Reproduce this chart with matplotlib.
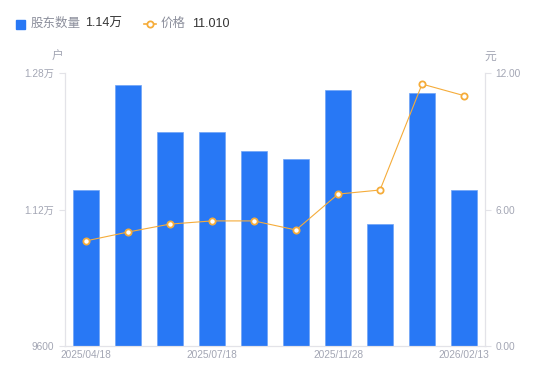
import matplotlib.pyplot as plt
import matplotlib.ticker as mticker

plt.rcParams['font.family'] = ['Liberation Sans', 'Noto Sans CJK SC']

dates = ['2025/04/18', '2025/05/30', '2025/06/30', '2025/07/18', '2025/08/29',
         '2025/09/30', '2025/11/28', '2025/12/31', '2026/01/30', '2026/02/13']
holders = [11430, 12660, 12110, 12110, 11890, 11790, 12600, 11030, 12570, 11430]
price = [4.62, 5.01, 5.36, 5.50, 5.50, 5.10, 6.68, 6.86, 11.52, 11.01]

left_ticks = [9600, 11200, 12800]
left_tick_labels = ['9600', '1.12万', '1.28万']
right_ticks = [0, 6, 12]

blue = '#2878f5'
orange = '#f5ac3a'
grey = '#a3a6b4'
spine_c = '#e3e3e8'

fig = plt.figure(figsize=(5.5, 3.81), dpi=100)
ax = fig.add_axes([0.118, 0.092, 0.764, 0.716])
ax2 = ax.twinx()

x = range(len(dates))
ax.bar(x, holders, width=0.6, color=blue, edgecolor='#6fa3f7', linewidth=0.5, zorder=2)
ax.set_ylim(9600, 12800)
ax.set_xlim(-0.5, len(dates) - 0.5)
ax.set_yticks(left_ticks)
ax.set_yticklabels(left_tick_labels)
ax.set_xticks([0, 3, 6, 9])
ax.set_xticklabels([dates[i] for i in [0, 3, 6, 9]])

ax2.plot(x, price, color=orange, lw=0.8, marker='o', ms=4.5, mfc='white',
         mec=orange, mew=1.3, zorder=3)
ax2.set_ylim(0, 12)
ax2.set_yticks(right_ticks)
ax2.yaxis.set_major_formatter(mticker.FormatStrFormatter('%.2f'))

for a in (ax, ax2):
    for s in a.spines.values():
        s.set_color(spine_c)
    a.spines['top'].set_visible(False)
    a.tick_params(colors=grey, labelsize=7.3, length=4, width=0.8)
    a.tick_params(axis='y', labelcolor=grey, color=spine_c)
ax.tick_params(axis='x', length=0, pad=3)

fig.text(58 / 550, 1 - 57 / 381, '户', color=grey, fontsize=8.5, va='center', ha='center')
fig.text(490 / 550, 1 - 57 / 381, '元', color=grey, fontsize=8.5, va='center', ha='center')

# legend row
fig.patches.append(plt.Rectangle((16 / 550, 1 - 29 / 381), 9 / 550, 9 / 381,
                                 transform=fig.transFigure, color=blue, figure=fig))
fig.text(31 / 550, 1 - 24 / 381, '股东数量', color='#8c8f9c', fontsize=9, va='center')
fig.text(85 / 550, 1 - 24 / 381, '1.14万', color='#333333', fontsize=9, va='center')
fig.lines.append(plt.Line2D([144 / 550, 156 / 550], [1 - 24 / 381] * 2, color=orange,
                            lw=1.2, transform=fig.transFigure))
fig.lines.append(plt.Line2D([150 / 550], [1 - 24 / 381], color=orange, marker='o', ms=4.5,
                            mfc='white', mew=1.3, transform=fig.transFigure))
fig.text(161 / 550, 1 - 24 / 381, '价格', color='#8c8f9c', fontsize=9, va='center')
fig.text(192 / 550, 1 - 24 / 381, '11.010', color='#333333', fontsize=9, va='center')

fig.savefig('out.png', dpi=100)
